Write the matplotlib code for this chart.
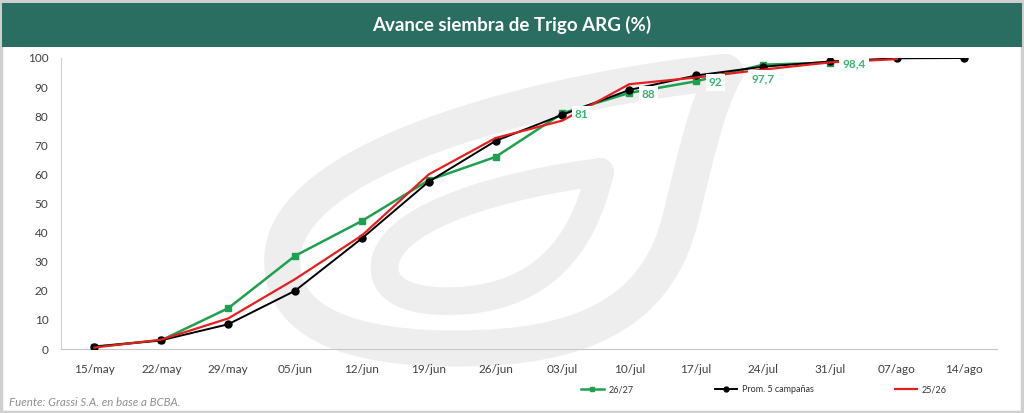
import matplotlib
matplotlib.use("Agg")
import matplotlib.pyplot as plt
from matplotlib.patches import Rectangle, PathPatch
from matplotlib.path import Path
import numpy as np

plt.rcParams['font.family'] = ['Lato', 'DejaVu Sans']

categories = ["15/may", "22/may", "29/may", "05/jun", "12/jun", "19/jun", "26/jun",
              "03/jul", "10/jul", "17/jul", "24/jul", "31/jul", "07/ago", "14/ago"]
s2627 = [0.8, 3.0, 14.0, 32.0, 44.0, 58.0, 66.0, 81.0, 88.0, 92.0, 97.7, 98.4]
prom5 = [0.8, 3.0, 8.5, 20.0, 38.0, 57.5, 71.5, 80.5, 89.0, 94.0, 97.0, 98.8, 99.9, 100.0]
s2526 = [0.5, 3.2, 10.5, 24.0, 39.0, 60.0, 72.5, 78.5, 91.0, 93.3, 96.0, 98.5, 99.6]
labels_2627 = {7: "81", 8: "88", 9: "92", 10: "97,7", 11: "98,4"}

W, H = 1024, 413
fig = plt.figure(figsize=(W / 100, H / 100), dpi=100)
fig.patch.set_facecolor("white")

# outer frame
fig.patches.append(Rectangle((0.001, 0.002), 0.997, 0.996, transform=fig.transFigure,
                             fill=False, edgecolor="#cfcfcf", linewidth=2.5, zorder=0))
# title band
fig.patches.append(Rectangle((2 / W, 1 - 47 / H), 1 - 4 / W, 44 / H, transform=fig.transFigure,
                             facecolor="#2a6d61", edgecolor="none", zorder=1))
fig.text(0.5, 1 - 25 / H, "Avance siembra de Trigo ARG (%)", color="white",
         fontsize=13.5, fontweight="bold", ha="center", va="center")

ax = fig.add_axes([61 / W, 1 - 349 / H, (997 - 61) / W, (349 - 58) / H])
ax.patch.set_alpha(0)

# watermark (decorative)
def px(x, y):
    return (x / W, 1 - y / H)

outer = [px(725, 72), px(560, 88), px(300, 150), px(283, 250),
         px(272, 335), px(380, 352), px(480, 348),
         px(600, 344), px(660, 300), px(680, 220),
         px(695, 160), px(705, 110), px(725, 72)]
codes = [Path.MOVETO] + [Path.CURVE4] * 12
ax.add_patch(PathPatch(Path(outer, codes), transform=fig.transFigure, fill=False,
                       edgecolor="#eeeeee", linewidth=26, zorder=0, clip_on=False,
                       capstyle="round", joinstyle="round"))
inner = [px(600, 172), px(500, 185), px(400, 215), px(386, 258),
         px(376, 295), px(420, 305), px(470, 300),
         px(540, 292), px(582, 250), px(600, 172)]
codes2 = [Path.MOVETO] + [Path.CURVE4] * 9
ax.add_patch(PathPatch(Path(inner, codes2), transform=fig.transFigure, fill=False,
                       edgecolor="#eeeeee", linewidth=20, zorder=0, clip_on=False,
                       capstyle="round", joinstyle="round"))

x = np.arange(len(categories))
green = "#1fa050"
lab_green = "#3bb273"
ax.plot(x[:len(s2627)], s2627, color=green, lw=1.8, marker="s", ms=4.5, zorder=3, label="26/27")
ax.plot(x[:len(prom5)], prom5, color="black", lw=1.4, marker="o", ms=5, zorder=4,
        label="Prom. 5 campañas")
ax.plot(x[:len(s2526)], s2526, color="#e3201e", lw=1.6, zorder=5, label="25/26")

for i, t in labels_2627.items():
    if t == "97,7":
        off = (0, -10)
        ha = "center"
    else:
        off = (9, -1)
        ha = "left"
    ax.annotate(t, (x[i], s2627[i]), xytext=off, textcoords="offset points",
                ha=ha, va="center", color=lab_green, fontsize=8.5, fontweight="bold",
                bbox=dict(boxstyle="square,pad=0.25", facecolor="white", edgecolor="none"),
                zorder=6)

ax.set_xlim(-0.5, len(categories) - 0.5)
ax.set_ylim(0, 100)
ax.set_xticks(x)
ax.set_xticklabels(categories)
ax.set_yticks(np.arange(0, 101, 10))
ax.tick_params(axis="both", length=0, labelsize=8.5, colors="#404040")
ax.tick_params(axis="x", pad=11)
ax.tick_params(axis="y", pad=9)
for s in ["top", "right"]:
    ax.spines[s].set_visible(False)
ax.spines["left"].set_color("#d0d0d0")
ax.spines["bottom"].set_color("#c8c8c8")

leg = fig.legend(loc="center", bbox_to_anchor=(764 / W, 1 - 390 / H), ncol=3, frameon=False,
                 fontsize=6.5, handlelength=2.5, columnspacing=9, markerscale=0.7,
                 handletextpad=0.5, labelcolor="#333333")

fig.text(9 / W, 1 - 403 / H, "Fuente: Grassi S.A. en base a BCBA.", fontsize=8.3,
         style="italic", color="#8f8f8f", ha="left", va="center")

fig.savefig("out.png", dpi=100)
